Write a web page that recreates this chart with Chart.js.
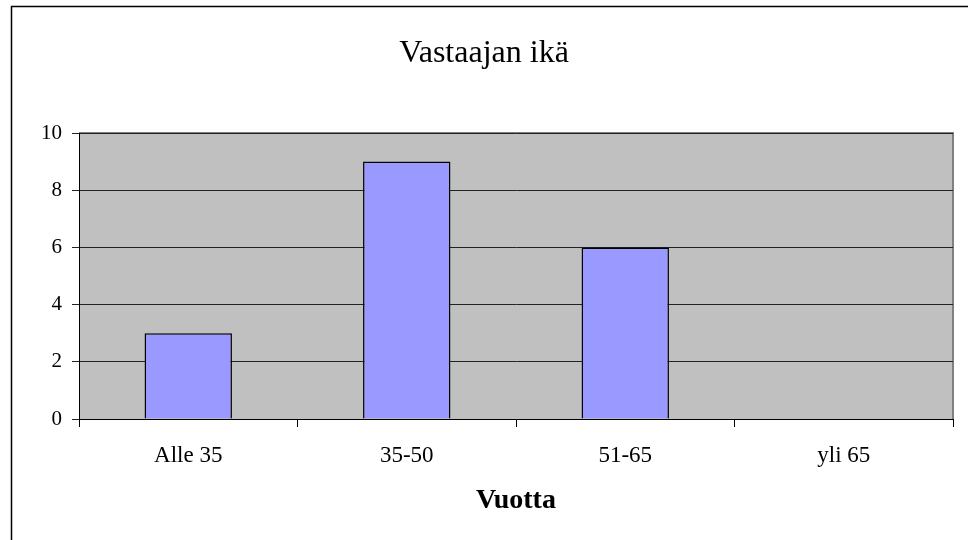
<!DOCTYPE html>
<html>
<head>
<meta charset="utf-8">
<script src="https://cdn.jsdelivr.net/npm/chart.js@4.4.1/dist/chart.umd.min.js"></script>
<style>
  html, body { margin: 0; padding: 0; background: #fff; }
  #wrap { width: 968px; height: 540px; position: relative; }
</style>
</head>
<body>
<div id="wrap"><canvas id="c" width="968" height="540"></canvas></div>
<script>
const categories = ["Alle 35", "35-50", "51-65", "yli 65"];
const values = [3, 9, 6, 0];
const yTicks = [0, 2, 4, 6, 8, 10];
const chartTitle = "Vastaajan ikä";
const xTitle = "Vuotta";

const FONT = "'Liberation Serif', 'Times New Roman', serif";

const bgPlugin = {
  id: 'bgPlugin',
  beforeDraw(chart) {
    const { ctx, chartArea: a } = chart;
    ctx.save();
    ctx.fillStyle = '#fff';
    ctx.fillRect(0, 0, chart.width, chart.height);
    ctx.fillStyle = '#C0C0C0';
    ctx.fillRect(a.left, a.top, a.right - a.left, a.bottom - a.top);
    ctx.strokeStyle = '#808080';
    ctx.lineWidth = 2;
    ctx.beginPath();
    ctx.moveTo(a.left, a.top);
    ctx.lineTo(a.right, a.top);
    ctx.lineTo(a.right, a.bottom);
    ctx.stroke();
    ctx.strokeStyle = '#000';
    ctx.lineWidth = 1.5;
    ctx.strokeRect(11.5, 6.5, chart.width + 10, chart.height + 10);
    ctx.restore();
  }
};

new Chart(document.getElementById('c'), {
  type: 'bar',
  data: {
    labels: categories,
    datasets: [{
      data: values,
      backgroundColor: '#9999FF',
      borderColor: '#000000',
      borderWidth: 1.5,
      barPercentage: 0.4,
      categoryPercentage: 1.0
    }]
  },
  options: {
    responsive: false,
    animation: false,
    devicePixelRatio: 1,
    layout: { padding: { left: 15, right: 15, top: 0, bottom: 0 } },
    plugins: {
      legend: { display: false },
      tooltip: { enabled: false },
      title: {
        display: true,
        text: chartTitle,
        color: '#000',
        font: { family: FONT, size: 32, weight: 'normal', lineHeight: 1.2 },
        padding: { top: 34, bottom: 60.6 }
      }
    },
    scales: {
      x: {
        offset: true,
        grid: { display: true, drawOnChartArea: false, drawTicks: true, tickLength: 8, color: '#000', lineWidth: 1, offset: true },
        border: { display: true, color: '#000', width: 1 },
        ticks: { color: '#000', padding: 17, font: { family: FONT, size: 23, lineHeight: 1 } },
        title: {
          display: true,
          text: xTitle,
          color: '#000',
          font: { family: FONT, size: 28, weight: 'bold', lineHeight: 1.2 },
          padding: { top: 0, bottom: 22 }
        },
        afterFit(scale) { scale.height = 121; }
      },
      y: {
        min: 0,
        max: 10,
        afterBuildTicks(scale) { scale.ticks = yTicks.map(v => ({ value: v })); },
        grid: { color: '#222', lineWidth: 1, drawTicks: true, tickLength: 7 },
        border: { display: true, color: '#000', width: 1 },
        ticks: { color: '#000', padding: 10, font: { family: FONT, size: 21 } },
        afterFit(scale) { scale.width = 64; }
      }
    }
  },
  plugins: [bgPlugin]
});
</script>
</body>
</html>
